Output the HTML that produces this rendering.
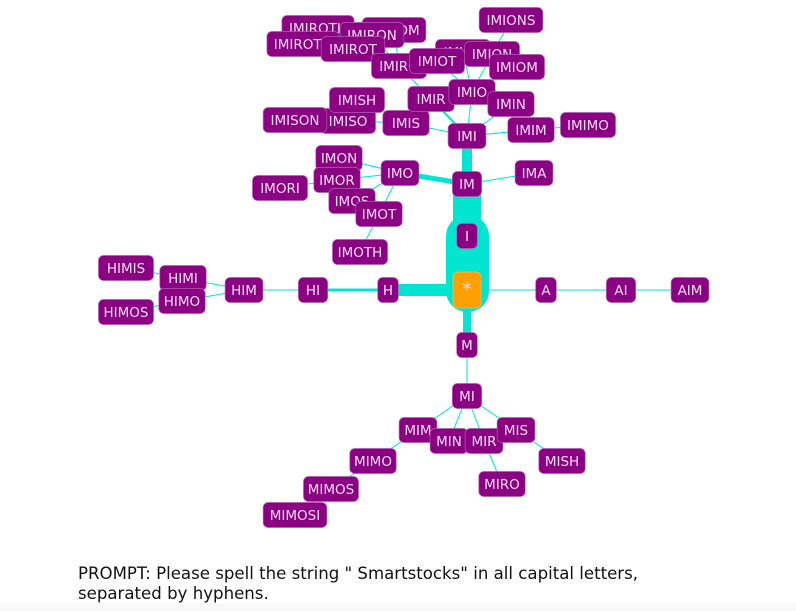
<!DOCTYPE html>
<html><head><meta charset="utf-8"><style>
html,body{margin:0;padding:0;background:#fff;width:796px;height:611px;overflow:hidden}
svg{position:absolute;left:0;top:0}
.p{position:absolute;left:78px;top:564px;font:16.6px "DejaVu Sans","Liberation Sans",sans-serif;color:#111;line-height:20px}
.strip{position:absolute;left:0;top:603px;width:796px;height:8px;background:#f8f8f8}
</style></head><body>
<svg id="s" width="796" height="611" xmlns="http://www.w3.org/2000/svg">
<g id="e" stroke="#00e5d0" fill="none" stroke-linecap="round"></g>
<rect x="446" y="215" width="43" height="97" rx="21" fill="#00e5d0"/>
<g id="n" font-family="DejaVu Sans, Liberation Sans, sans-serif" font-size="13.5"></g>
</svg>
<div class="p">PROMPT: Please spell the string " Smartstocks" in all capital letters,<br>separated by hyphens.</div>
<div class="strip"></div>
<script>
var N={
"*":[467,290],H:[388,290],HI:[313,290],HIM:[244,290],HIMI:[183,278],HIMO:[182,301],HIMIS:[126,268],HIMOS:[126,312],
A:[546,290],AI:[621,290],AIM:[690,290],M:[467,345],MI:[467,396],MIM:[418,430],MIN:[449,441],MIR:[484,441],MIS:[516,430],
MISH:[562,461],MIRO:[502,484],MIMO:[373,461],MIMOS:[331,489],MIMOSI:[295,515],
I:[467,236],IM:[467,184],IMI:[467,136],IMO:[400,173],IMA:[534,173],IMON:[339,158],IMOR:[337,180],IMORI:[280,188],IMOS:[352,201],IMOT:[379,214],IMOTH:[360,252],
IMIS:[406,123],IMIR:[431,99],IMIO:[472,92],IMIN:[511,104],IMIM:[531,130],IMIMO:[588,125],IMISO:[348,121],IMISH:[357,100],IMISON:[295,120],
IMIROTH:[318,28],IMIROM:[394,30],IMIRON:[372,35],IMIROTO:[303,44],IMIROT:[353,49],IMIRO:[399,66],IMIONS:[511,20],IMIOS:[463,52],IMION:[492,54],IMIOM:[517,67],IMIOT:[437,61]};
var lbl={};
var E=[["*","H",12],["H","HI",3],["HI","HIM",1],["HIM","HIMI",1],["HIM","HIMO",1],["HIMI","HIMIS",1],["HIMO","HIMOS",1],
["*","A",1],["A","AI",1],["AI","AIM",1],["*","M",8],["M","MI",1],["MI","MIM",1],["MI","MIN",1],["MI","MIR",1],["MI","MIS",1],["MIS","MISH",1],["MIR","MIRO",1],["MIM","MIMO",1],["MIMO","MIMOS",1],["MIMOS","MIMOSI",1],
["I","IM",28],["IM","IMI",10],["IM","IMO",5],["IM","IMA",1],["IMO","IMON",1],["IMO","IMOR",1],["IMOR","IMORI",1],["IMO","IMOS",1],["IMO","IMOT",1],["IMOT","IMOTH",1],
["IMI","IMIS",1],["IMI","IMIR",2],["IMI","IMIO",1],["IMI","IMIN",1],["IMI","IMIM",1],["IMIM","IMIMO",1],["IMIS","IMISO",1],["IMISO","IMISH",1],["IMISO","IMISON",1],
["IMIR","IMIRO",1],["IMIRO","IMIROT",1],["IMIROT","IMIROTO",1],["IMIROT","IMIROTH",1],["IMIRO","IMIRON",1],["IMIRO","IMIROM",1],
["IMIO","IMIOT",1],["IMIO","IMIOS",1],["IMIO","IMION",1],["IMIO","IMIOM",1],["IMION","IMIONS",1]];
var ns="http://www.w3.org/2000/svg",eg=document.getElementById("e"),ng=document.getElementById("n");
E.forEach(function(x){var a=N[x[0]],b=N[x[1]],l=document.createElementNS(ns,"line");
l.setAttribute("x1",a[0]);l.setAttribute("y1",a[1]);l.setAttribute("x2",b[0]);l.setAttribute("y2",b[1]);l.setAttribute("stroke-width",x[2]);eg.appendChild(l);});
Object.keys(N).forEach(function(k){var p=N[k],t=lbl[k]||k,w=t.length*8.6+12,h=25,o=k=="*";
if(o){w=28;h=36;}
var r=document.createElementNS(ns,"rect");r.setAttribute("x",p[0]-w/2);r.setAttribute("y",p[1]-h/2);r.setAttribute("width",w);r.setAttribute("height",h);r.setAttribute("rx",5);
r.setAttribute("fill",o?"#ffa000":"#8b0082");r.setAttribute("stroke",o?"#f0c060":"#b060b0");r.setAttribute("stroke-width","0.7");ng.appendChild(r);
var tx=document.createElementNS(ns,"text");tx.setAttribute("x",p[0]);tx.setAttribute("y",p[1]+5);tx.setAttribute("text-anchor","middle");tx.setAttribute("fill","#f3dff3");tx.textContent=t;if(o)tx.setAttribute("font-size","18");ng.appendChild(tx);});
</script>
</body></html>
